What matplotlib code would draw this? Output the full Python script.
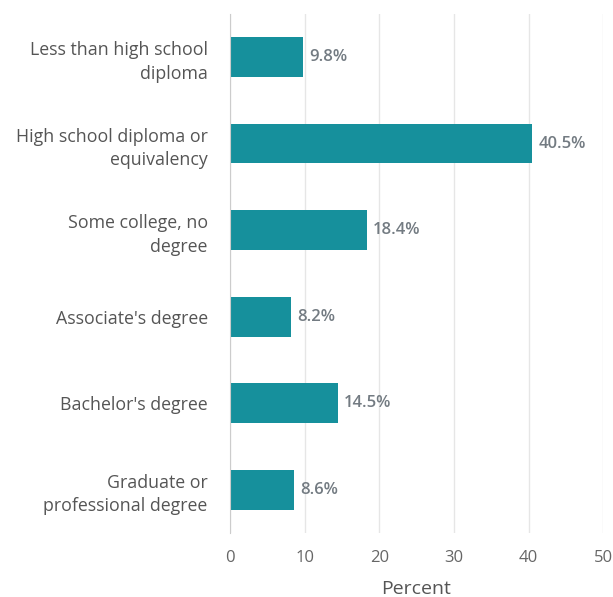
import matplotlib
matplotlib.use('Agg')
import matplotlib.pyplot as plt

categories = ["Less than high school\ndiploma",
              "High school diploma or\nequivalency",
              "Some college, no\ndegree",
              "Associate's degree",
              "Bachelor's degree",
              "Graduate or\nprofessional degree"]
values = [9.8, 40.5, 18.4, 8.2, 14.5, 8.6]
xticks = [0, 10, 20, 30, 40, 50]

plt.rcParams['font.family'] = ['Open Sans', 'DejaVu Sans']

fig = plt.figure(figsize=(6.13, 5.97), dpi=100)
ax = fig.add_axes([0.375, 0.107, 0.609, 0.87])

ypos = list(range(len(categories)))
ax.barh(ypos, values, height=0.46, color='#16909c', zorder=3)
for y, v in zip(ypos, values):
    ax.text(v + 0.8, y, "%.1f%%" % v, va='center', ha='left',
            fontsize=12, color='#737b82', fontweight='semibold')

ax.set_xlim(0, 50)
ax.set_ylim(len(categories) - 0.5, -0.5)
ax.set_yticks(ypos)
ax.set_yticklabels(categories, fontsize=12.8, color='#555555', ha='right',
                   multialignment='right', linespacing=1.4)
ax.set_xticks(xticks)
ax.set_xticklabels([str(t) for t in xticks], fontsize=12, color='#666666')
ax.tick_params(axis='y', length=0, pad=16)
ax.tick_params(axis='x', length=0, pad=12)
ax.set_xlabel("Percent", fontsize=14, color='#555555', labelpad=10)

ax.grid(axis='x', color='#e6e6e6', linewidth=1, zorder=0)
for s in ['top', 'right', 'bottom']:
    ax.spines[s].set_visible(False)
ax.spines['left'].set_color('#cccccc')
ax.spines['left'].set_zorder(4)

fig.savefig('out.png', dpi=100)
